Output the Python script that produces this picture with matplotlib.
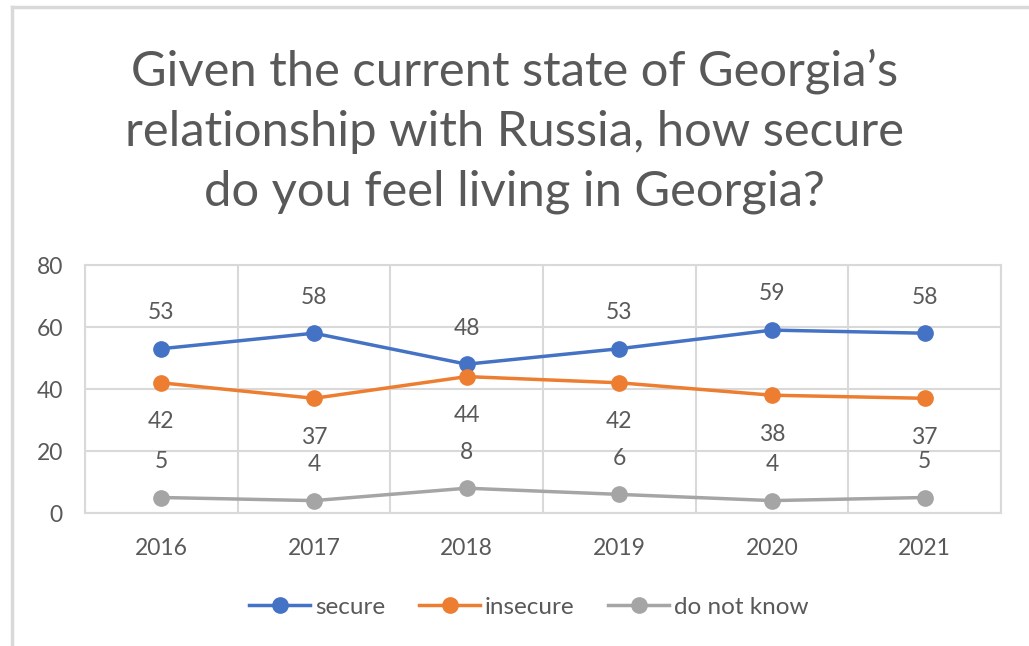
import matplotlib
matplotlib.use("Agg")
from matplotlib import pyplot as plt
from matplotlib.lines import Line2D
import numpy as np

years = ["2016", "2017", "2018", "2019", "2020", "2021"]
secure = [53, 58, 48, 53, 59, 58]
insecure = [42, 37, 44, 42, 38, 37]
dont_know = [5, 4, 8, 6, 4, 5]
series_names = ["secure", "insecure", "do not know"]
y_ticks = [0, 20, 40, 60, 80]

title = "Given the current state of Georgia\u2019s\nrelationship with Russia, how secure\ndo you feel living in Georgia?"

plt.rcParams['font.family'] = ['Lato', 'DejaVu Sans']
txt = '#595959'
grid_c = '#D9D9D9'
fs = 16.5

fig = plt.figure(figsize=(10.29, 6.46), dpi=100)
ax = fig.add_axes([85/1029, 1-513/646, 916/1029, 248/646])

x = np.arange(len(years))
colors = ['#4472C4', '#ED7D31', '#A5A5A5']
# label offsets in points: above for secure / don't know, below for insecure
offsets = [26, -28, 26]
for vals, name, c, off in zip([secure, insecure, dont_know], series_names, colors, offsets):
    ax.plot(x, vals, color=c, lw=2.5, marker='o', ms=11, label=name, zorder=3)
    for xi, v in zip(x, vals):
        ax.annotate(str(v), (xi, v), xytext=(0, off), textcoords='offset points',
                    ha='center', va='center', fontsize=fs, color=txt)

ax.set_xlim(-0.5, len(years) - 0.5)
ax.set_ylim(0, 80)
ax.set_yticks(y_ticks)
ax.set_xticks(x)
ax.set_xticklabels(years)
ax.set_xticks(np.arange(-0.5, len(years), 1), minor=True)
ax.grid(axis='y', color=grid_c, lw=1.5)
ax.grid(axis='x', which='minor', color=grid_c, lw=1.5)
ax.set_axisbelow(True)
for s in ax.spines.values():
    s.set_color(grid_c)
    s.set_linewidth(1.5)
ax.tick_params(which='both', length=0)
ax.tick_params(axis='y', pad=16, labelsize=fs, labelcolor=txt)
ax.tick_params(axis='x', pad=18, labelsize=fs, labelcolor=txt)

fig.text(0.5, 1-131/646, title, ha='center', va='center', fontsize=35.3,
         color=txt, linespacing=1.43)

leg = fig.legend(loc='center', bbox_to_anchor=(529/1029, 1-607/646), ncol=3, frameon=False,
                 fontsize=17.5, handlelength=2.5, columnspacing=1.4, handletextpad=0.2)
for t in leg.get_texts():
    t.set_color(txt)

# outer frame lines (top and left)
fig.add_artist(Line2D([12/1029, 12/1029], [0, 1-7/646], transform=fig.transFigure,
                      color=grid_c, lw=2.5))
fig.add_artist(Line2D([12/1029, 1], [1-7/646, 1-7/646], transform=fig.transFigure,
                      color=grid_c, lw=2.5))

fig.savefig('out.png', dpi=100)
